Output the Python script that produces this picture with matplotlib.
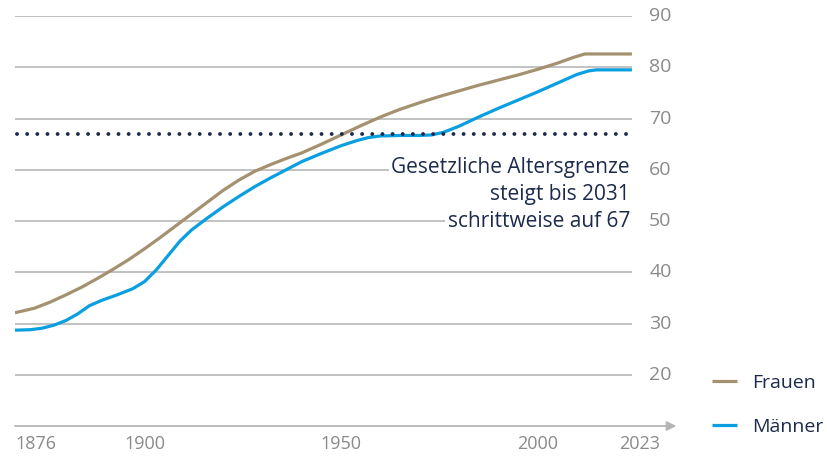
import matplotlib.pyplot as plt

plt.rcParams['font.family'] = ['Open Sans', 'DejaVu Sans']

# Lebenserwartung bei Geburt
jahre_frauen = [1867, 1872, 1876, 1880, 1884, 1888, 1892, 1896, 1900, 1904, 1908, 1912,
                1916, 1920, 1924, 1928, 1932, 1936, 1940, 1945, 1950, 1955, 1960, 1965,
                1970, 1975, 1980, 1985, 1990, 1995, 2000, 2005, 2009, 2012, 2024]
frauen = [32.1, 33.0, 34.2, 35.6, 37.1, 38.8, 40.6, 42.5, 44.6, 46.8, 49.1, 51.4,
          53.7, 56.0, 58.0, 59.7, 61.0, 62.2, 63.3, 65.0, 66.8, 68.6, 70.3, 71.8,
          73.1, 74.3, 75.4, 76.5, 77.5, 78.5, 79.6, 80.8, 81.9, 82.6, 82.6]

jahre_maenner = [1867, 1871, 1874, 1877, 1880, 1883, 1886, 1889, 1893, 1897, 1900, 1903,
                 1906, 1909, 1912, 1916, 1920, 1924, 1928, 1932, 1936, 1940, 1945, 1950,
                 1954, 1957, 1960, 1965, 1970, 1973, 1976, 1980, 1985, 1990, 1995, 2000,
                 2005, 2010, 2013, 2015, 2024]
maenner = [28.7, 28.8, 29.1, 29.7, 30.6, 31.9, 33.5, 34.5, 35.6, 36.8, 38.2, 40.5,
           43.3, 46.1, 48.3, 50.6, 52.8, 54.8, 56.7, 58.4, 60.0, 61.6, 63.2, 64.7,
           65.7, 66.3, 66.6, 66.7, 66.7, 66.8, 67.3, 68.5, 70.3, 72.0, 73.6, 75.2,
           76.9, 78.6, 79.3, 79.5, 79.5]

altersgrenze = 67
y_ticks = [20, 30, 40, 50, 60, 70, 80, 90]
x_labels = ['1876', '1900', '1950', '2000', '2023']
x_label_pos = [1867, 1900, 1950, 2000, 2026]
hinweis = ['Gesetzliche Altersgrenze', 'steigt bis 2031', 'schrittweise auf 67']

farbe_frauen = '#a3916f'
farbe_maenner = '#0a9fe0'
navy = '#1c2b4c'
grau = '#8a8a8a'

fig = plt.figure(figsize=(8.27, 4.68), dpi=100)
ax = fig.add_axes([0.0181, 0.0897, 0.746, 0.876])
ax.set_xlim(1867, 2024)
ax.set_ylim(10, 90)

for y in y_ticks:
    ax.axhline(y, color='#bdbdbd', lw=1.3, zorder=1)
    ax.text(1.028, y, str(y), transform=ax.get_yaxis_transform(), ha='left', va='center',
            fontsize=14, color=grau)

ax.plot(jahre_frauen, frauen, color=farbe_frauen, lw=2.3, zorder=3, label='Frauen',
        solid_capstyle='butt', solid_joinstyle='round')
ax.plot(jahre_maenner, maenner, color=farbe_maenner, lw=2.3, zorder=3, label='Männer',
        solid_capstyle='butt', solid_joinstyle='round')

ax.plot([1867.5, 2023.5], [altersgrenze, altersgrenze], color=navy, lw=2.8,
        linestyle=(0, (0.01, 2.6)), dash_capstyle='round', zorder=4)

# Hinweistext, jede Zeile mit eigenem weißen Hintergrund
for i, zeile in enumerate(hinweis):
    ax.text(2023.5, 60.4 - i * 5.2, zeile, ha='right', va='center', fontsize=15,
            color=navy, zorder=5,
            bbox=dict(facecolor='white', edgecolor='none', pad=1.5))

# x-Achse mit Pfeil
ax.annotate('', xy=(1.072, 0), xytext=(0, 0), xycoords='axes fraction',
            arrowprops=dict(arrowstyle='-|>', color='#b5b5b5', lw=1.3,
                            mutation_scale=14, shrinkA=0, shrinkB=0),
            annotation_clip=False)

for lab, pos in zip(x_labels, x_label_pos):
    ax.text(pos, -0.045, lab, transform=ax.get_xaxis_transform(),
            ha='left' if lab == '1876' else 'center', va='center', fontsize=13, color=grau)

for s in ax.spines.values():
    s.set_visible(False)
ax.set_xticks([])
ax.set_yticks([])

fig.legend(loc='center left', bbox_to_anchor=(0.84, 0.135), frameon=False,
           fontsize=14, handlelength=1.3, handletextpad=0.75, labelspacing=1.35,
           labelcolor=navy)

fig.savefig('out.png', dpi=100)
